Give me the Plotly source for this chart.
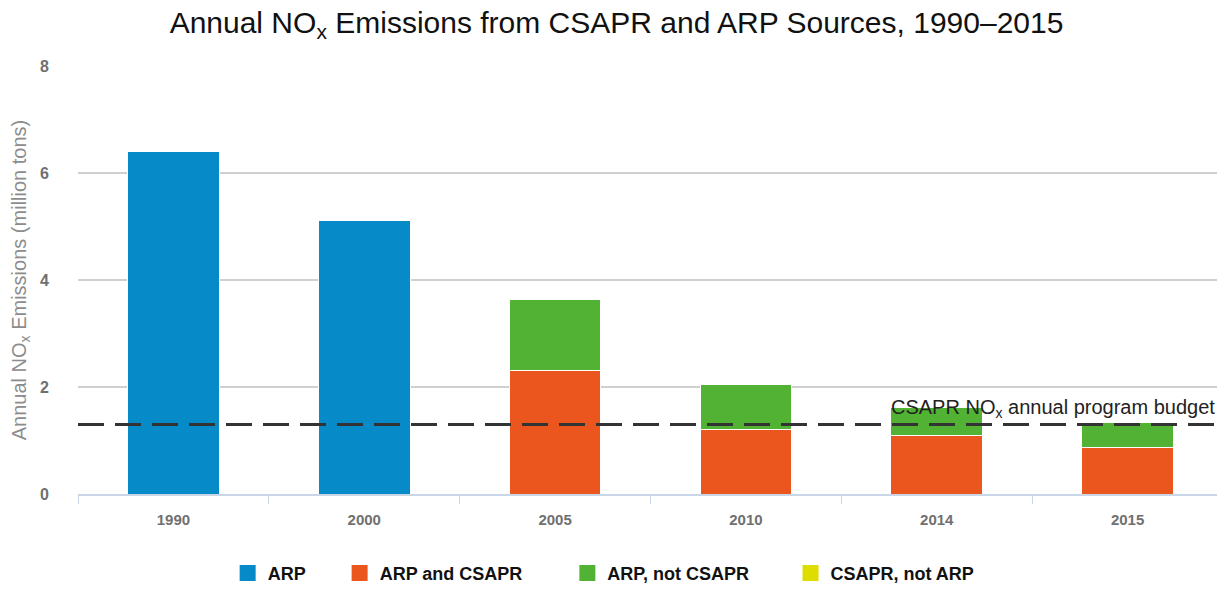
import plotly.graph_objects as go

years = ['1990', '2000', '2005', '2010', '2014', '2015']
arp = [6.41, 5.12, None, None, None, None]
arp_and_csapr = [None, None, 2.30, 1.21, 1.09, 0.87]
arp_not_csapr = [None, None, 1.33, 0.83, 0.52, 0.47]
csapr_not_arp = [0, 0, 0, 0, 0, 0]
budget = 1.3

fig = go.Figure()
series = [
    ('ARP', arp, '#068BC8'),
    ('ARP and CSAPR', arp_and_csapr, '#EB561E'),
    ('ARP, not CSAPR', arp_not_csapr, '#52B234'),
    ('CSAPR, not ARP', csapr_not_arp, '#DDDD00'),
]
for name, vals, color in series:
    fig.add_trace(go.Bar(
        name=name, x=years, y=vals, showlegend=False,
        marker=dict(color=color, line=dict(color='white', width=1)),
    ))

# one small legend per entry so the spacing follows the original
legend_x = [0.1307, 0.2285, 0.4274, 0.6223]
legend_font = dict(size=18, color='#111111', family='Liberation Sans, Arial')
for i, (name, vals, color) in enumerate(series):
    key = 'legend' if i == 0 else f'legend{i + 1}'
    fig.add_trace(go.Scatter(
        name=f'<b>{name}</b>', x=[None], y=[None], mode='markers', legend=key,
        marker=dict(symbol='square', size=20, color=color),
    ))
    fig.update_layout({key: dict(orientation='h', x=legend_x[i], xanchor='left',
                                 y=-0.185, yanchor='middle',
                                 font=legend_font, itemwidth=30,
                                 bgcolor='rgba(0,0,0,0)')})

fig.add_shape(type='line', xref='paper', x0=0, x1=1, yref='y', y0=budget, y1=budget,
              line=dict(color='#333333', width=3, dash='26px,11px'))
fig.add_annotation(xref='paper', x=0.9948, xanchor='right', yref='y', y=budget,
                   yanchor='bottom', yshift=1, showarrow=False,
                   text='CSAPR NO<sub>x</sub> annual program budget',
                   font=dict(size=20, color='#222222'))

# the page adds an 8px body margin, so the figure is 8px smaller
fig.update_layout(
    barmode='stack',
    bargap=0.52,
    width=1217, height=586,
    paper_bgcolor='white', plot_bgcolor='white',
    font=dict(family='Liberation Sans, Arial, sans-serif'),
    title=dict(text='Annual NO<sub>x</sub> Emissions from CSAPR and ARP Sources, 1990–2015',
               x=0.5, xanchor='center', y=0.976, yanchor='middle',
               font=dict(size=30, color='#111111')),
    margin=dict(l=70, r=2, t=58, b=100),
    xaxis=dict(tickson='boundaries', ticks='outside', ticklen=8, tickcolor='#C9D6E6',
               showline=True, linecolor='#C9D6E6', linewidth=2, automargin=False,
               ticklabelstandoff=11,
               tickfont=dict(size=15, color='#707070', weight='bold')),
    yaxis=dict(range=[0, 8], dtick=2, showgrid=True, gridcolor='#D0D0D0', gridwidth=1.5,
               zeroline=False, automargin=False, ticklabelstandoff=28,
               tickfont=dict(size=16, color='#707070', weight='bold'),
               title=dict(text='Annual NO<sub>x</sub> Emissions (million tons)',
                          font=dict(size=20, color='#8C8C8C'), standoff=14)),
)

fig.write_html('out.html')
